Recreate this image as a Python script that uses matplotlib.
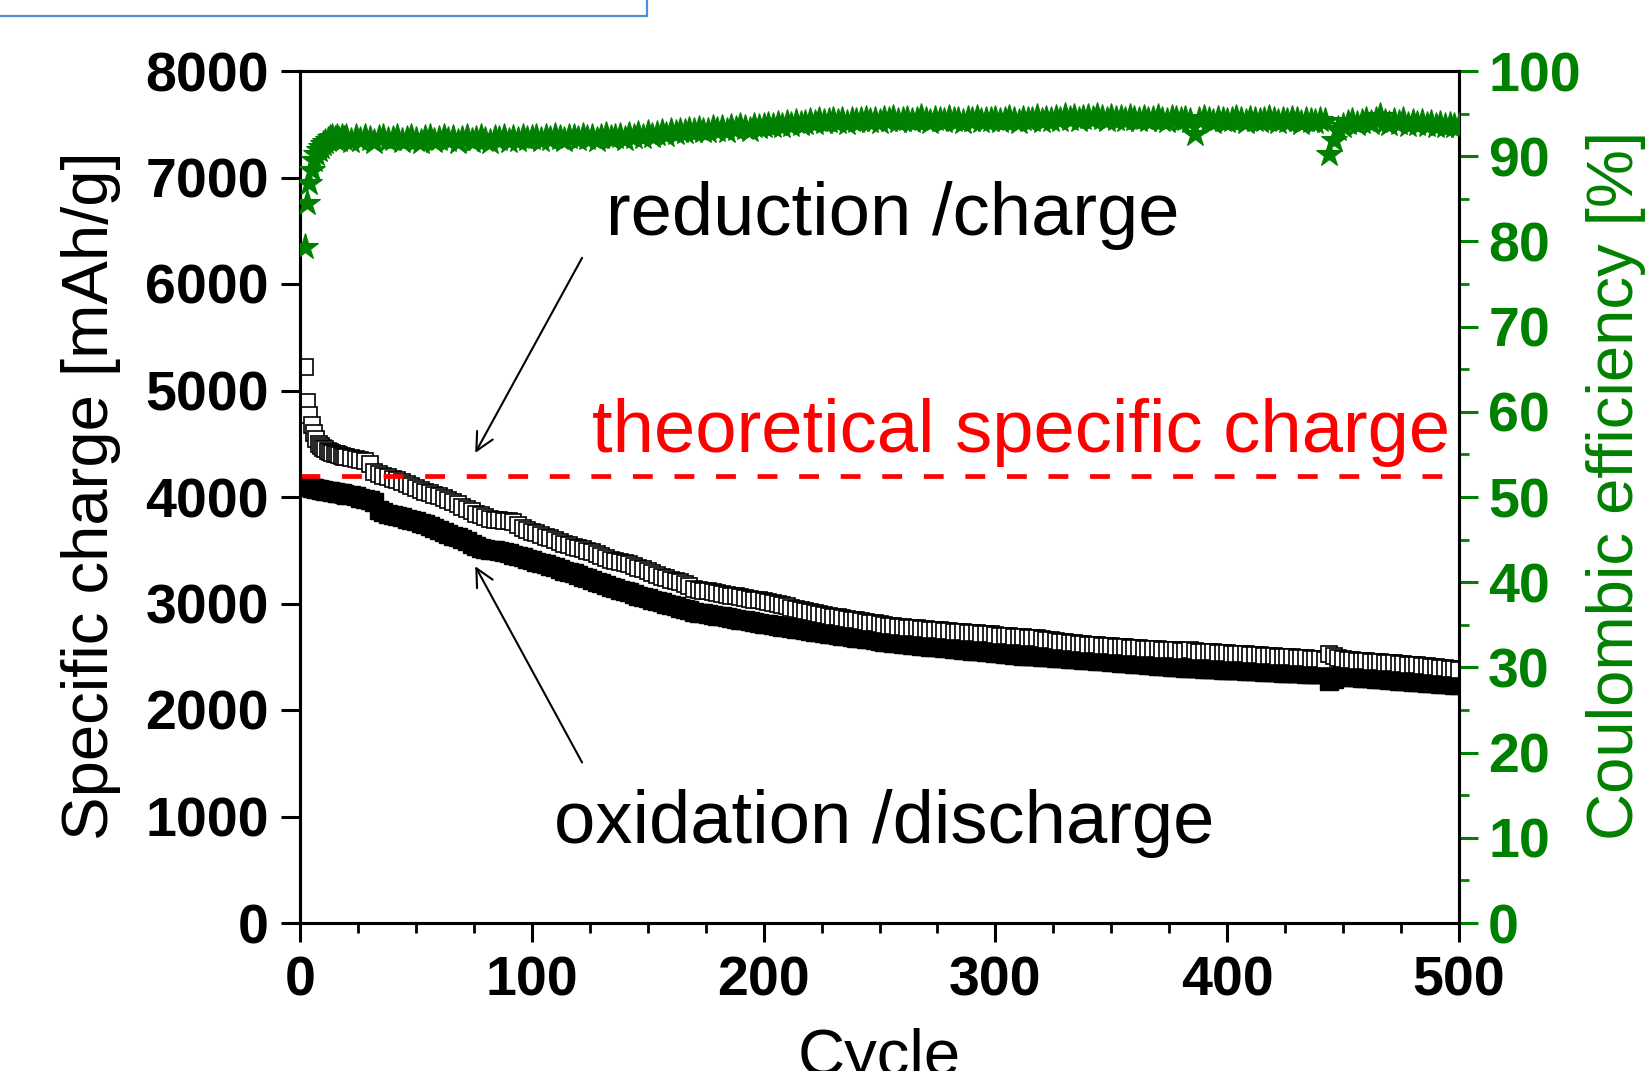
import matplotlib
matplotlib.use("Agg")
import matplotlib.pyplot as plt
from matplotlib.ticker import MultipleLocator
from matplotlib.patches import Rectangle

plt.rcParams['font.family'] = ['Liberation Sans', 'DejaVu Sans']

# ---------------- data ----------------
cycles = list(range(2, 21)) + list(range(22, 501, 2))

charge = [5224, 4895, 4770, 4676, 4600, 4540, 4500, 4478, 4460, 4447,
          4435, 4425, 4416, 4408, 4400, 4393, 4386, 4380, 4375,
          4368, 4360, 4348, 4335, 4312, 4232, 4212, 4198, 4185, 4172,
          4155, 4140, 4120, 4100, 4085, 4068, 4050, 4035, 4020, 4005,
          3990, 3972, 3952, 3930, 3910, 3890, 3868, 3845, 3828, 3812,
          3798, 3788, 3780, 3775, 3770, 3762, 3740, 3712, 3690, 3675,
          3660, 3643, 3628, 3612, 3595, 3578, 3560, 3545, 3532, 3520,
          3508, 3495, 3480, 3465, 3448, 3428, 3410, 3400, 3390, 3382,
          3372, 3355, 3338, 3320, 3305, 3290, 3270, 3252, 3238, 3225,
          3212, 3200, 3180, 3160, 3140, 3130, 3122, 3113, 3105, 3097,
          3090, 3082, 3075, 3068, 3060, 3052, 3044, 3037, 3030, 3022,
          3012, 3002, 2992, 2982, 2972, 2962, 2952, 2942, 2932, 2922,
          2912, 2902, 2892, 2884, 2876, 2869, 2862, 2855, 2848, 2842,
          2835, 2828, 2820, 2813, 2806, 2799, 2792, 2787, 2782, 2778,
          2774, 2770, 2767, 2763, 2759, 2755, 2751, 2748, 2744, 2740,
          2737, 2734, 2730, 2727, 2723, 2720, 2716, 2713, 2709, 2705,
          2699, 2696, 2692, 2688, 2685, 2683, 2679, 2674, 2672, 2667,
          2660, 2654, 2648, 2642, 2637, 2632, 2627, 2622, 2617, 2612,
          2609, 2606, 2603, 2600, 2597, 2594, 2591, 2588, 2585, 2582,
          2580, 2577, 2574, 2571, 2569, 2566, 2563, 2561, 2559, 2557,
          2555, 2560, 2552, 2549, 2546, 2544, 2541, 2538, 2535, 2532,
          2530, 2527, 2524, 2522, 2519, 2516, 2513, 2511, 2508, 2505,
          2502, 2500, 2497, 2494, 2491, 2488, 2485, 2482, 2479, 2476,
          2474, 2530, 2510, 2488, 2476, 2470, 2467, 2464, 2461, 2458,
          2455, 2451, 2448, 2444, 2441, 2437, 2434, 2430, 2427, 2423,
          2419, 2414, 2410, 2405, 2400, 2396, 2391, 2386, 2381, 2376]

discharge = [4120, 4100, 4090, 4085, 4080, 4076, 4072, 4068, 4065, 4061,
             4058, 4054, 4050, 4046, 4042, 4038, 4033, 4028, 4022,
             4015, 4005, 3992, 3980, 3968, 3955, 3880, 3856, 3845, 3834,
             3822, 3810, 3797, 3784, 3771, 3758, 3744, 3728, 3710, 3692,
             3674, 3656, 3638, 3622, 3606, 3584, 3562, 3540, 3522, 3512,
             3506, 3502, 3494, 3484, 3470, 3458, 3445, 3432, 3418, 3405,
             3393, 3382, 3371, 3356, 3340, 3323, 3308, 3295, 3282, 3268,
             3253, 3237, 3221, 3205, 3189, 3173, 3157, 3144, 3130, 3117,
             3104, 3089, 3074, 3060, 3050, 3037, 3023, 3010, 2998, 2985,
             2972, 2960, 2948, 2935, 2923, 2915, 2908, 2900, 2893, 2886,
             2879, 2871, 2864, 2856, 2849, 2841, 2834, 2827, 2820, 2812,
             2805, 2798, 2791, 2784, 2777, 2770, 2763, 2756, 2749, 2742,
             2735, 2728, 2721, 2715, 2709, 2703, 2697, 2691, 2685, 2680,
             2674, 2668, 2662, 2655, 2648, 2642, 2635, 2630, 2626, 2621,
             2617, 2613, 2608, 2604, 2600, 2596, 2591, 2587, 2583, 2579,
             2575, 2571, 2567, 2563, 2558, 2554, 2550, 2546, 2542, 2538,
             2534, 2529, 2524, 2520, 2515, 2510, 2508, 2505, 2503, 2500,
             2497, 2494, 2491, 2488, 2485, 2482, 2479, 2476, 2473, 2470,
             2466, 2463, 2459, 2456, 2452, 2449, 2445, 2442, 2438, 2435,
             2431, 2428, 2424, 2421, 2417, 2414, 2410, 2407, 2403, 2400,
             2398, 2396, 2393, 2391, 2389, 2387, 2384, 2382, 2380, 2378,
             2376, 2373, 2371, 2369, 2367, 2364, 2362, 2360, 2358, 2356,
             2354, 2352, 2350, 2348, 2346, 2344, 2342, 2340, 2338, 2336,
             2334, 2268, 2292, 2318, 2315, 2313, 2310, 2307, 2304, 2301,
             2297, 2294, 2290, 2287, 2283, 2280, 2276, 2273, 2269, 2266,
             2263, 2260, 2256, 2253, 2250, 2247, 2244, 2241, 2238, 2235]

efficiency = [79.4, 84.5, 86.8, 88.4, 89.6, 90.2, 90.7, 91.1, 91.4, 91.7,
              91.9, 92.1, 92.2, 92.0, 92.3, 91.9, 92.2, 92.0, 92.3,
              91.8, 92.2, 91.9, 92.3, 92.0, 91.7, 92.1, 92.3, 91.9, 92.0,
              92.2, 91.8, 92.0, 92.3, 91.9, 91.7, 92.1, 92.2, 91.8, 92.0,
              92.3, 91.9, 92.1, 91.7, 92.0, 92.2, 91.8, 92.0, 92.3, 91.9,
              91.7, 92.1, 92.0, 92.3, 91.8, 92.1, 91.9, 92.2, 92.0, 92.1,
              92.3, 91.9, 92.2, 92.0, 92.4, 92.1, 91.9, 92.3, 92.2, 92.0,
              92.4, 92.1, 92.3, 91.9, 92.2, 92.5, 92.1, 92.3, 92.4, 92.0,
              92.5, 92.2, 92.6, 92.3, 92.7, 92.4, 92.6, 92.8, 92.5, 92.9,
              92.7, 93.0, 92.8, 93.1, 92.9, 93.2, 93.0, 92.9, 93.3, 93.1,
              93.3, 93.0, 93.4, 93.2, 93.5, 93.3, 93.1, 93.6, 93.4, 93.5,
              93.7, 93.5, 93.8, 93.6, 93.9, 93.7, 94.0, 93.8, 93.9, 94.1,
              93.9, 94.2, 94.0, 94.1, 94.3, 94.0, 94.2, 93.9, 94.3, 94.1,
              94.2, 94.4, 94.1, 94.3, 94.0, 94.4, 94.2, 94.5, 94.1, 94.3,
              94.4, 94.1, 94.3, 94.6, 94.2, 94.0, 94.4, 94.3, 94.1, 94.5,
              94.2, 94.3, 94.0, 94.4, 94.2, 94.5, 94.1, 94.3, 94.2, 94.4,
              94.1, 94.3, 94.5, 94.2, 94.0, 94.4, 94.2, 94.3, 94.6, 94.1,
              94.4, 94.2, 94.5, 94.3, 94.7, 94.4, 94.6, 94.3, 94.5, 94.6,
              94.4, 94.7, 94.5, 94.3, 94.6, 94.4, 94.5, 94.2, 94.6, 94.4,
              94.3, 94.5, 94.2, 94.4, 94.6, 94.3, 94.1, 94.5, 94.4, 94.2,
              94.4, 94.1, 92.6, 94.3, 94.5, 94.2, 94.0, 94.4, 94.3, 94.1,
              94.3, 94.5, 94.2, 94.0, 94.4, 94.2, 94.1, 94.3, 94.5, 94.2,
              94.0, 94.3, 94.1, 94.4, 94.2, 93.9, 94.3, 94.1, 94.0, 94.2,
              94.1, 90.3, 91.9, 93.2, 93.6, 93.9, 94.1, 93.8, 94.0, 94.2,
              93.9, 94.3, 94.7, 94.0, 93.8, 94.1, 93.9, 94.2, 93.7, 94.0,
              93.8, 94.0, 93.7, 93.9, 93.6, 93.8, 93.5, 93.7, 93.6, 93.6]

theoretical = 4200
theory_x = [0, 500]

left_ticks = list(range(0, 8001, 1000))
right_ticks = list(range(0, 101, 10))
x_ticks = list(range(0, 501, 100))

GREEN = '#008000'

# ---------------- figure ----------------
W, H = 1645, 1071
fig = plt.figure(figsize=(W / 100, H / 100), dpi=100)
ax = fig.add_axes([300 / W, 1 - 923 / H, 1159 / W, 852 / H])

ax.plot(cycles, discharge, linestyle='none', marker='s', ms=12.5,
        mfc='black', mec='black', mew=1.0, zorder=3)
ax.plot(cycles, charge, linestyle='none', marker='s', ms=12,
        mfc='white', mec='black', mew=1.2, zorder=4)
ax.plot(theory_x, [theoretical, theoretical], color='red', lw=3.4,
        linestyle=(0, (4.2, 4.6)), dash_capstyle='butt', zorder=5)

ax.set_xlim(0, 500)
ax.set_ylim(0, 8000)
ax.set_xticks(x_ticks)
ax.xaxis.set_minor_locator(MultipleLocator(25))
ax.set_yticks(left_ticks)

for s in ax.spines.values():
    s.set_linewidth(2.2)
ax.tick_params(axis='both', which='major', direction='out', length=13.5,
               width=2.2, labelsize=40)
ax.tick_params(axis='x', which='minor', direction='out', length=7.2,
               width=2.0)
ax.tick_params(axis='x', pad=10)
ax.tick_params(axis='y', pad=9)
for lab in ax.get_xticklabels() + ax.get_yticklabels():
    lab.set_fontweight('bold')

ax2 = ax.twinx()
ax2.plot(cycles, efficiency, linestyle='none', marker='*', ms=20,
         color=GREEN, mec=GREEN, mew=0.8, zorder=3)
ax2.set_ylim(0, 100)
ax2.set_yticks(right_ticks)
ax2.yaxis.set_minor_locator(MultipleLocator(5))
for s in ax2.spines.values():
    s.set_linewidth(2.2)
ax2.tick_params(axis='y', which='major', direction='out', length=13.5,
                width=2.2, labelsize=40, colors=GREEN, pad=7.5)
ax2.tick_params(axis='y', which='minor', direction='out', length=7.2,
                width=2.0, colors=GREEN)
ax2.spines['right'].set_color('black')
for lab in ax2.get_yticklabels():
    lab.set_fontweight('bold')

# annotations
ax.text(132, 6463, 'reduction /charge', fontsize=53.5, ha='left',
        va='baseline', color='black', zorder=6)
ax.text(126, 4420, 'theoretical specific charge', fontsize=53.5,
        ha='left', va='baseline', color='red', zorder=6)
ax.text(109.5, 755, 'oxidation /discharge', fontsize=53.5, ha='left',
        va='baseline', color='black', zorder=6)

arrow_kw = dict(arrowstyle='->', color='black', lw=1.5,
                mutation_scale=32, shrinkA=0, shrinkB=0)
ax.annotate('', xy=(75.6, 4414), xytext=(121.7, 6246), arrowprops=arrow_kw)
ax.annotate('', xy=(75.6, 3350), xytext=(121.7, 1507), arrowprops=arrow_kw)

# axis labels
fig.text(108 / W, 1 - 496 / H, 'Specific charge [mAh/g]', fontsize=47,
         rotation=90, rotation_mode='anchor', ha='center', va='baseline')
fig.text(1633 / W, 1 - 485 / H, 'Coulombic efficiency [%]', fontsize=47,
         rotation=90, rotation_mode='anchor', ha='center', va='baseline',
         color=GREEN)
fig.text(879 / W, 1 - 1075 / H, 'Cycle', fontsize=47, ha='center',
         va='baseline')

# partially visible box at the top-left corner
fig.patches.append(Rectangle((-0.01, 1 - 16 / H), 647 / W + 0.01, 0.05,
                             transform=fig.transFigure, fill=False,
                             edgecolor='#4a8fd4', lw=1.6))

fig.savefig('out.png', dpi=100)
